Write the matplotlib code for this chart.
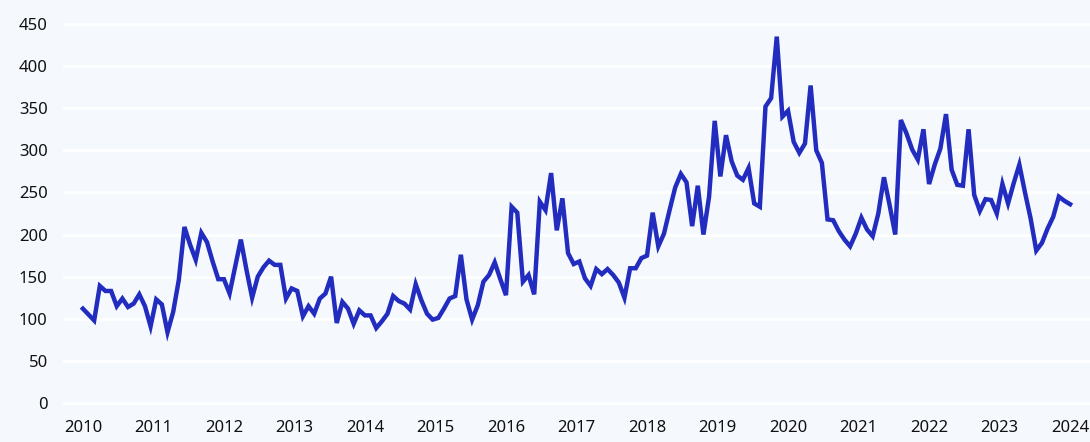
import numpy as np
import pandas as pd
import matplotlib
matplotlib.use("Agg")
import matplotlib.pyplot as plt
import matplotlib.dates as mdates

# values, evenly spaced from 2010 to 2024
values = [
    112, 105, 98, 139, 133, 133, 115, 124, 114, 118, 129, 115,
    91, 123, 117, 84, 108, 146, 209, 188, 170, 202, 191, 168,
    147, 147, 130, 162, 194, 158, 125, 150, 161, 169, 164, 164,
    124, 136, 133, 103, 115, 106, 124, 130, 150, 95, 120, 112,
    94, 110, 104, 104, 89, 97, 106, 127, 121, 118, 111, 141,
    122, 106, 99, 101, 112, 124, 127, 176, 123, 99, 116, 144,
    152, 167, 147, 128, 233, 226, 144, 152, 129, 239, 229, 273,
    205, 243, 178, 165, 168, 148, 139, 159, 153, 159, 152, 143,
    125, 160, 160, 172, 175, 226, 186, 201, 229, 256, 272, 262,
    210, 258, 200, 245, 335, 269, 318, 287, 270, 265, 279, 237,
    233, 352, 362, 435, 340, 347, 310, 297, 308, 377, 300, 285,
    218, 217, 204, 194, 186, 201, 220, 206, 198, 225, 268, 235,
    200, 336, 320, 301, 289, 325, 260, 283, 302, 343, 277, 259,
    258, 325, 247, 228, 242, 241, 225, 260, 237, 261, 283, 250,
    219, 181, 190, 207, 221, 245, 240, 236,
]
start_date = "2010-01-01"
end_date = "2024-01-01"
year_ticks = list(range(2010, 2025))
y_ticks = list(range(0, 451, 50))

dates = pd.date_range(start_date, end_date, periods=len(values))

plt.rcParams['font.family'] = ['Noto Sans', 'DejaVu Sans']

bg = '#f5f9fe'
fig = plt.figure(figsize=(10.9, 4.42), dpi=100)
fig.patch.set_facecolor(bg)
ax = fig.add_axes([63 / 1090, 30 / 442, 1027 / 1090, 404 / 442])
ax.set_facecolor(bg)

ax.plot(dates, values, color='#222dbf', lw=3.2, solid_joinstyle='miter', zorder=3)

# x range padded a bit on both sides of the data
pad = pd.Timedelta(days=103)
ax.set_xlim(pd.Timestamp(start_date) - pad, pd.Timestamp(end_date) + pad)
ax.set_ylim(-10.7, 469)

ax.set_xticks([pd.Timestamp(f"{y}-01-01") for y in year_ticks])
ax.xaxis.set_major_formatter(mdates.DateFormatter('%Y'))
ax.set_yticks(y_ticks)

ax.grid(True, axis='y', color='white', lw=2, zorder=1)
ax.grid(False, axis='x')
for s in ax.spines.values():
    s.set_visible(False)
ax.tick_params(axis='both', length=0, labelsize=12, colors='#111111')
ax.tick_params(axis='y', pad=11)
ax.tick_params(axis='x', pad=6)

plt.savefig('out.png', dpi=100, facecolor=bg)
